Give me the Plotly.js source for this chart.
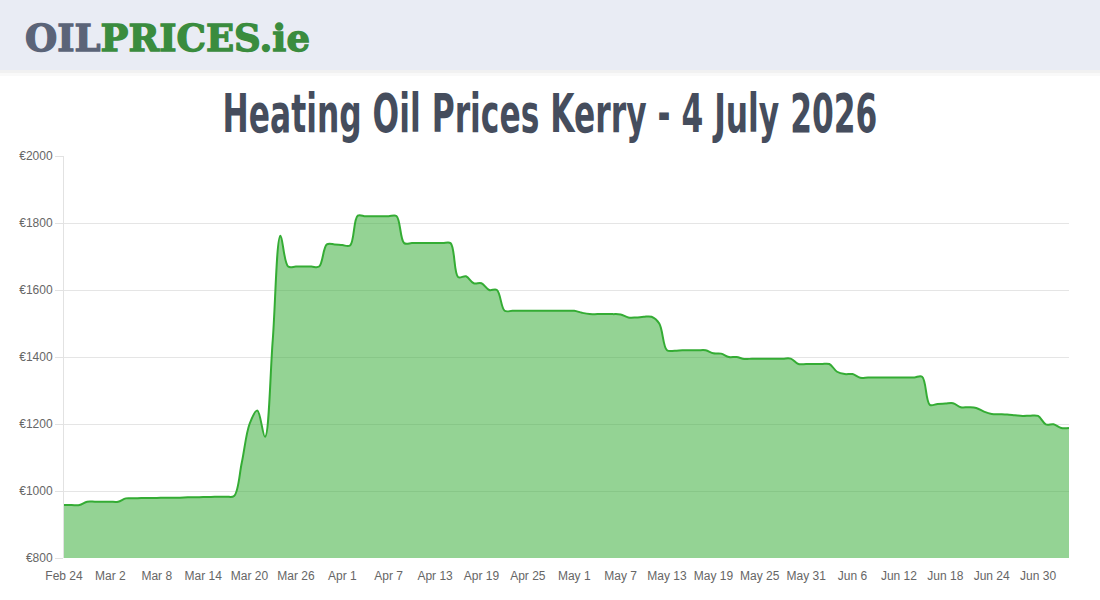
<!DOCTYPE html>
<html>
<head>
<meta charset="utf-8">
<script src="https://cdn.plot.ly/plotly-3.0.1.min.js"></script>
<style>
  html, body { margin: 0; padding: 0; background: #ffffff; }
  #chart { width: 1100px; height: 600px; }
</style>
</head>
<body>
<div id="chart"></div>
<script>
// ---- Data ----
const startDate = '2026-02-24';
const prices = [
  958, 958, 958, 968, 968, 968, 968, 968, 978, 978,
  979, 979, 979, 980, 980, 980, 981, 981, 982, 982,
  983, 983, 985, 1085, 1200, 1240, 1162, 1450, 1762, 1670,
  1670, 1670, 1670, 1670, 1736, 1736, 1734, 1733, 1822, 1820,
  1820, 1820, 1820, 1821, 1740, 1740, 1740, 1740, 1740, 1740,
  1740, 1638, 1641, 1620, 1620, 1600, 1600, 1538, 1538, 1538,
  1538, 1538, 1538, 1538, 1538, 1538, 1538, 1532, 1528, 1528,
  1528, 1528, 1527, 1518, 1518, 1520, 1520, 1500, 1420, 1419,
  1420, 1420, 1420, 1420, 1411, 1410, 1400, 1400, 1394, 1395,
  1395, 1395, 1395, 1395, 1395, 1379, 1379, 1379, 1379, 1379,
  1356, 1349, 1349, 1338, 1339, 1339, 1339, 1339, 1339, 1339,
  1339, 1341, 1257, 1260, 1261, 1262, 1250, 1250, 1248, 1237,
  1230, 1229, 1228, 1226, 1224, 1225, 1224, 1199, 1199, 1188,
  1188
];
const titleText = 'Heating Oil Prices Kerry - 4 July 2026';
const logoParts = ['OIL', 'PRICES.ie'];
const yTickPrefix = '€';

// category dates, one per day from startDate
const dates = [];
(function () {
  const d0 = new Date(startDate + 'T00:00:00Z');
  for (let i = 0; i < prices.length; i++) {
    const d = new Date(d0.getTime() + i * 86400000);
    dates.push(d.toISOString().slice(0, 10));
  }
})();

// ---- Layout geometry ----
const W = 1100, H = 600;
const mL = 64, mR = 31, mT = 156, mB = 42;
const pw = W - mL - mR, ph = H - mT - mB;
const px = x => (x - mL) / pw;          // pixel -> paper x
const py = y => (H - mB - y) / ph;      // pixel -> paper y

const trace = {
  x: dates,
  y: prices,
  type: 'scatter',
  mode: 'lines',
  line: { color: 'rgb(52,172,52)', width: 2, shape: 'spline', smoothing: 1 },
  fill: 'tozeroy',
  fillcolor: 'rgba(52,172,52,0.53)',
  hoverinfo: 'x+y'
};

const layout = {
  width: W,
  height: H,
  margin: { l: mL, r: mR, t: mT, b: mB, pad: 0 },
  paper_bgcolor: '#ffffff',
  plot_bgcolor: '#ffffff',
  showlegend: false,
  font: { family: 'Liberation Sans, Arial, sans-serif', size: 12, color: '#666666' },
  title: {
    text: titleText,
    font: { family: 'DejaVu Sans, sans-serif', size: 53, color: '#454d5d', weight: 700 },
    x: 0.5,
    xref: 'container',
    xanchor: 'center',
    y: 1 - 113 / H,
    yref: 'container',
    yanchor: 'middle'
  },
  xaxis: {
    type: 'date',
    range: [dates[0], dates[dates.length - 1]],
    tick0: startDate,
    dtick: 6 * 86400000,
    tickformat: '%b %-d',
    showgrid: false,
    zeroline: false,
    showline: false,
    ticks: '',
    ticklabelstandoff: 9,
    tickfont: { family: 'Liberation Sans, Arial, sans-serif', size: 12, color: '#666666' },
    fixedrange: true
  },
  yaxis: {
    range: [800, 2000],
    dtick: 200,
    tick0: 800,
    tickprefix: yTickPrefix,
    showgrid: true,
    gridcolor: '#e5e5e5',
    gridwidth: 1,
    zeroline: false,
    showline: true,
    linecolor: '#e2e2e2',
    linewidth: 1,
    ticks: 'outside',
    ticklen: 8,
    tickcolor: '#e2e2e2',
    tickfont: { family: 'Liberation Sans, Arial, sans-serif', size: 12, color: '#666666' },
    fixedrange: true
  },
  shapes: [
    // header shadow
    { type: 'rect', xref: 'paper', yref: 'paper', x0: px(0), x1: px(W), y0: py(76), y1: py(70),
      fillcolor: 'rgba(0,0,0,0.025)', line: { width: 0 }, layer: 'below' },
    { type: 'rect', xref: 'paper', yref: 'paper', x0: px(0), x1: px(W), y0: py(73), y1: py(70),
      fillcolor: 'rgba(0,0,0,0.03)', line: { width: 0 }, layer: 'below' },
    // header band
    { type: 'rect', xref: 'paper', yref: 'paper', x0: px(0), x1: px(W), y0: py(70), y1: py(0),
      fillcolor: '#e9ecf4', line: { width: 0 }, layer: 'below' }
  ],
  annotations: [
    {
      xref: 'paper', yref: 'paper',
      x: px(23), y: py(38),
      xanchor: 'left', yanchor: 'middle',
      showarrow: false,
      text: '<span style="color:#5b6478">' + logoParts[0] + '</span><span style="color:#3a8c3e">' + logoParts[1] + '</span>',
      font: { family: 'DejaVu Serif, serif', size: 37, weight: 700 }
    }
  ]
};

Plotly.newPlot('chart', [trace], layout, { displayModeBar: false, responsive: false }).then(function () {
  // condense the title horizontally to the reference's narrow headline width
  const t = document.querySelector('.gtitle');
  if (t) {
    const bb = t.getBBox();
    const s = 655 / bb.width;
    const cx = bb.x + bb.width / 2;
    t.setAttribute('transform', 'translate(' + cx + ',0) scale(' + s + ',1) translate(' + (-cx) + ',0)');
  }
  // heavier slab look for the logo
  document.querySelectorAll('.annotation-text tspan').forEach(function (sp) {
    const c = sp.style.fill || sp.getAttribute('fill');
    if (c) {
      sp.style.stroke = c;
      sp.style.strokeWidth = '1.3px';
    }
  });
});
</script>
</body>
</html>
